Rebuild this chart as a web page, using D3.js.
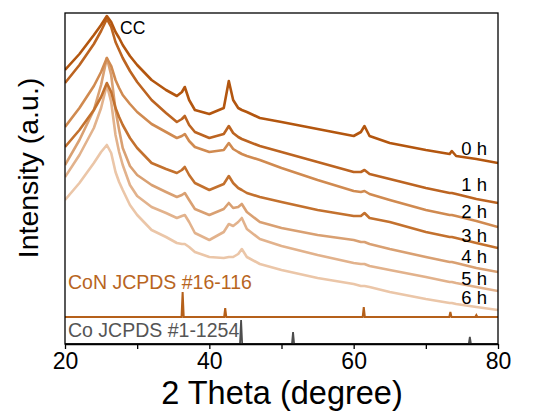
<!DOCTYPE html>
<html lang="en">
<head>
    <meta charset="UTF-8">
    <title>XRD patterns</title>
    <script src="https://d3js.org/d3.v7.min.js"></script>
    <style>
        body { margin: 0; background: #fff; }
        svg { font-family: "Liberation Sans", Arial, sans-serif; }
        .axis text { font-size: 23px; fill: #000; }
        .axis path, .axis line { stroke: #000; stroke-width: 1.3; }
    </style>
</head>
<body>
    <div id="chart"></div>
    <script>
        // 2 theta grid (degree)
        const twoTheta = [20, 22, 24, 25, 25.8, 26.4, 27, 27.5, 28, 29, 30, 32, 34, 35.5, 36.2, 36.6, 37.2, 38, 40, 42, 42.7, 43.3, 44, 44.5, 45.2, 47, 50, 55, 60, 61, 61.5, 62.2, 65, 70, 73.3, 73.6, 74.2, 77, 80];

        // intensities (a.u., stacked as plotted)
        const h0 = [274, 290, 309, 319, 328, 322, 312, 306, 299, 288, 279, 264, 254, 248, 252, 257, 244, 234, 230, 236, 263, 244, 236, 234, 232, 226, 222, 215, 208, 212, 218, 208, 201, 194, 190, 193, 188, 185, 181];
        const h1 = [261, 279, 300, 313, 325, 317, 302, 294, 286, 273, 262, 244, 231, 222, 225, 228, 219, 212, 206, 210, 218, 211, 207, 205, 203, 198, 192, 182, 172, 172, 174, 170, 165, 156, 151, 151, 150, 145, 141];
        const h2 = [217, 236, 258, 272, 286, 278, 264, 256, 249, 240, 232, 220, 212, 206, 208, 210, 203, 197, 192, 194, 201, 195, 192, 190, 188, 184, 176, 164, 153, 152, 153, 150, 144, 134, 129, 129, 128, 123, 117];
        const h3 = [197, 214, 234, 247, 261, 252, 236, 227, 219, 206, 196, 181, 175, 171, 174, 177, 169, 161, 154, 160, 168, 161, 156, 154, 151, 147, 142, 134, 128, 128, 131, 126, 122, 112, 107, 107, 106, 101, 96];
        const h4 = [179, 204, 234, 259, 286, 269, 234, 214, 196, 178, 169, 159, 152, 147, 149, 151, 144, 135, 129, 135, 141, 136, 137, 140, 132, 122, 116, 109, 104, 102, 102, 100, 95, 87, 82, 82, 81, 76, 72];
        const h5 = [167, 189, 216, 236, 259, 242, 209, 192, 179, 159, 148, 137, 131, 126, 128, 129, 122, 111, 104, 112, 120, 118, 122, 126, 115, 105, 98, 89, 81, 80, 80, 78, 74, 67, 62, 62, 61, 57, 53];
        const h6 = [144, 161, 181, 192, 199, 191, 172, 162, 154, 139, 129, 114, 107, 101, 100, 100, 97, 92, 87, 86, 87, 87, 90, 95, 87, 80, 74, 66, 60, 58, 58, 57, 52, 45, 41, 41, 40, 37, 34];

        const seriesNames = ["0 h", "1 h", "2 h", "3 h", "4 h", "5 h", "6 h"];
        const seriesColors = ["#b3560f", "#bc6421", "#d08a50", "#c3712e", "#d9a072", "#e2b28c", "#ebc6a8"];

        // reference patterns
        const conPos = [36.3, 42.2, 61.4, 73.4, 77.0];
        const conHeight = [25, 9, 10, 5, 2];
        const conBase = 27;
        const coPos = [44.4, 51.6, 76.1];
        const coHeight = [24, 12, 7];
        const coBase = 0;

        const margin = { top: 13, right: 44, bottom: 68, left: 65 },
              width = 542 - margin.left - margin.right,
              height = 412 - margin.top - margin.bottom;

        const svg = d3.select("#chart")
                      .append("svg")
                      .attr("width", width + margin.left + margin.right)
                      .attr("height", height + margin.top + margin.bottom)
                      .append("g")
                      .attr("transform", `translate(${margin.left},${margin.top})`);

        svg.append("defs").append("clipPath")
           .attr("id", "plotClip")
           .append("rect")
           .attr("width", width)
           .attr("height", height);

        const x = d3.scaleLinear().domain([20, 80]).range([0, width]);
        const y = d3.scaleLinear().domain([0, 331]).range([height, 0]);

        const line = d3.line()
                       .x(d => x(d[0]))
                       .y(d => y(d[1]));

        const plot = svg.append("g").attr("clip-path", "url(#plotClip)");

        // stick patterns drawn as narrow peaks on a baseline
        function stickPoints(pos, hts, base) {
            const pts = [[20, base]];
            pos.forEach((p, i) => {
                pts.push([p - 0.15, base], [p, base + hts[i]], [p + 0.15, base]);
            });
            pts.push([80, base]);
            return pts;
        }

        plot.append("path")
            .datum(stickPoints(conPos, conHeight, conBase))
            .attr("d", line)
            .attr("fill", "none")
            .attr("stroke", "#b5601a")
            .attr("stroke-width", 2);

        plot.append("path")
            .datum(stickPoints(coPos, coHeight, coBase))
            .attr("d", line)
            .attr("fill", "none")
            .attr("stroke", "#4d4d4d")
            .attr("stroke-width", 1.8);

        // measured patterns, lightest drawn first
        const allSeries = [h0, h1, h2, h3, h4, h5, h6];
        for (let i = allSeries.length - 1; i >= 0; i--) {
            plot.append("path")
                .datum(twoTheta.map((t, j) => [t, allSeries[i][j]]))
                .attr("d", line)
                .attr("fill", "none")
                .attr("stroke", seriesColors[i])
                .attr("stroke-width", 2.6)
                .attr("stroke-linejoin", "round");
        }

        // X-axis
        svg.append("g")
           .attr("class", "axis")
           .attr("transform", `translate(0,${height})`)
           .call(d3.axisBottom(x)
                   .tickValues([20, 30, 40, 50, 60, 70, 80])
                   .tickFormat(d => d % 20 === 0 ? d : "")
                   .tickSize(5)
                   .tickPadding(4)
                   .tickSizeOuter(0));

        // frame
        svg.append("rect")
           .attr("width", width)
           .attr("height", height)
           .attr("fill", "none")
           .attr("stroke", "#000")
           .attr("stroke-width", 1.3);

        // curve labels
        const labelBase = [155, 191, 218, 242, 263, 285, 304];
        seriesNames.forEach((n, i) => {
            svg.append("text")
               .attr("x", 487 - margin.left)
               .attr("y", labelBase[i] - margin.top)
               .attr("text-anchor", "end")
               .attr("font-size", 18.5)
               .attr("fill", "#000")
               .text(n);
        });

        svg.append("text")
           .attr("x", 120 - margin.left)
           .attr("y", 34 - margin.top)
           .attr("font-size", 17.5)
           .text("CC");

        svg.append("text")
           .attr("x", 68 - margin.left)
           .attr("y", 289 - margin.top)
           .attr("font-size", 19.5)
           .attr("fill", "#b8651e")
           .text("CoN JCPDS #16-116");

        svg.append("text")
           .attr("x", 68 - margin.left)
           .attr("y", 337 - margin.top)
           .attr("font-size", 19.5)
           .attr("fill", "#555")
           .text("Co JCPDS #1-1254");

        // axis titles
        svg.append("text")
           .attr("x", 282 - margin.left)
           .attr("y", 404 - margin.top)
           .attr("text-anchor", "middle")
           .attr("font-size", 32.5)
           .text("2 Theta (degree)");

        svg.append("text")
           .attr("transform", `translate(${38 - margin.left},${168 - margin.top}) rotate(-90)`)
           .attr("text-anchor", "middle")
           .attr("font-size", 28.5)
           .text("Intensity (a.u.)");
    </script>
</body>
</html>
